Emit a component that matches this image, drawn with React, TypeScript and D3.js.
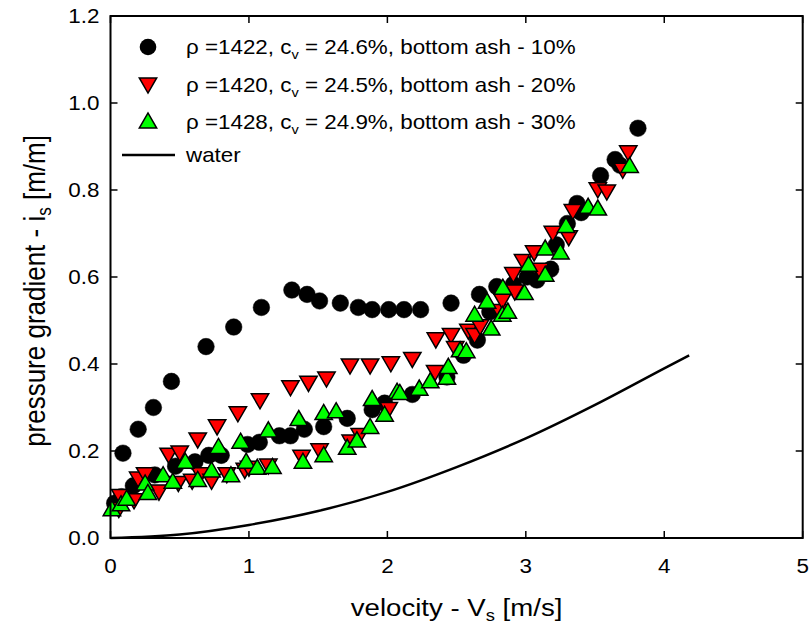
import React from "react";
import * as d3 from "d3";

const xTicks = [0, 1, 2, 3, 4, 5];
const yTicks = [0, 0.2, 0.4, 0.6, 0.8, 1.0, 1.2];

const ash10: [number, number][] = [
  [0.03, 0.08], [0.08, 0.095], [0.09, 0.195], [0.165, 0.12], [0.2, 0.25], [0.31, 0.3], [0.32, 0.145],
  [0.44, 0.36], [0.47, 0.165], [0.61, 0.175], [0.69, 0.44], [0.71, 0.19], [0.8, 0.19], [0.89, 0.485],
  [0.99, 0.215], [1.075, 0.22], [1.09, 0.53], [1.22, 0.235], [1.3, 0.235], [1.31, 0.57], [1.4, 0.25],
  [1.42, 0.56], [1.51, 0.545], [1.54, 0.256], [1.66, 0.54], [1.71, 0.275], [1.79, 0.53], [1.89, 0.525],
  [1.89, 0.295], [1.98, 0.31], [2.01, 0.525], [2.12, 0.525], [2.18, 0.33], [2.24, 0.525], [2.43, 0.37],
  [2.46, 0.54], [2.55, 0.42], [2.65, 0.455], [2.665, 0.56], [2.74, 0.52], [2.79, 0.578], [2.91, 0.583],
  [3.01, 0.6], [3.08, 0.593], [3.18, 0.618], [3.22, 0.674], [3.3, 0.723], [3.37, 0.769], [3.4, 0.748],
  [3.54, 0.833], [3.645, 0.87], [3.68, 0.857], [3.81, 0.942],
];

const ash20: [number, number][] = [
  [0.06, 0.07], [0.07, 0.1], [0.17, 0.09], [0.2, 0.14], [0.25, 0.15], [0.35, 0.11], [0.42, 0.195],
  [0.49, 0.13], [0.5, 0.2], [0.59, 0.135], [0.63, 0.23], [0.65, 0.15], [0.73, 0.135], [0.77, 0.26],
  [0.84, 0.15], [0.92, 0.29], [0.97, 0.16], [1.0, 0.165], [1.08, 0.32], [1.14, 0.17], [1.3, 0.35],
  [1.38, 0.19], [1.43, 0.36], [1.51, 0.205], [1.56, 0.37], [1.73, 0.4], [1.735, 0.225], [1.8, 0.24],
  [1.875, 0.4], [2.01, 0.3], [2.025, 0.405], [2.18, 0.415], [2.345, 0.385], [2.35, 0.46], [2.46, 0.47],
  [2.49, 0.44], [2.585, 0.48], [2.63, 0.47], [2.67, 0.49], [2.81, 0.525], [2.83, 0.55], [2.91, 0.61],
  [2.92, 0.57], [2.98, 0.64], [3.06, 0.66], [3.1, 0.62], [3.195, 0.705], [3.31, 0.695], [3.34, 0.755],
  [3.52, 0.805], [3.585, 0.8], [3.7, 0.85], [3.74, 0.89],
];

const ash30: [number, number][] = [
  [0.01, 0.063], [0.076, 0.074], [0.117, 0.087], [0.25, 0.122], [0.27, 0.1], [0.38, 0.141], [0.45, 0.126],
  [0.54, 0.172], [0.63, 0.13], [0.73, 0.152], [0.78, 0.206], [0.87, 0.141], [0.94, 0.218], [0.98, 0.172],
  [1.06, 0.158], [1.14, 0.244], [1.17, 0.16], [1.36, 0.27], [1.39, 0.172], [1.54, 0.187], [1.54, 0.284],
  [1.63, 0.288], [1.71, 0.204], [1.78, 0.221], [1.875, 0.252], [1.89, 0.316], [1.98, 0.28], [2.07, 0.333],
  [2.09, 0.33], [2.23, 0.34], [2.31, 0.357], [2.43, 0.365], [2.44, 0.39], [2.525, 0.428], [2.57, 0.426],
  [2.63, 0.51], [2.72, 0.54], [2.75, 0.478], [2.83, 0.51], [2.834, 0.572], [2.87, 0.517], [2.99, 0.56],
  [3.02, 0.625], [3.14, 0.602], [3.14, 0.662], [3.25, 0.653], [3.29, 0.714], [3.45, 0.758], [3.52, 0.754],
  [3.75, 0.852],
];

const water: [number, number][] = [
  [0, 0], [0.5, 0.008], [1, 0.03], [1.5, 0.062], [2, 0.106], [2.5, 0.163], [3, 0.229], [3.5, 0.306],
  [4, 0.39], [4.18, 0.42],
];

const legendLabels = [
  { rho: "1422", cv: "24.6%", ash: "10%" },
  { rho: "1420", cv: "24.5%", ash: "20%" },
  { rho: "1428", cv: "24.9%", ash: "30%" },
];

const W = 809;
const H = 632;
const left = 110.5;
const right = 802.7;
const top = 16;
const bottom = 538;
const SX = 1.15;

const FONT = "'Liberation Sans', Arial, sans-serif";

export default function App() {
  const x = d3.scaleLinear().domain([0, 5]).range([left, right]);
  const y = d3.scaleLinear().domain([0, 1.2]).range([bottom, top]);
  const line = d3
    .line<[number, number]>()
    .x((d) => x(d[0]))
    .y((d) => y(d[1]))
    .curve(d3.curveMonotoneX);

  const tri = 8.7;
  const downTri = (cx: number, cy: number) =>
    `M${cx - tri},${cy - tri * 0.58} L${cx + tri},${cy - tri * 0.58} L${cx},${cy + tri * 1.15} Z`;
  const upTri = (cx: number, cy: number) =>
    `M${cx - tri},${cy + tri * 0.58} L${cx + tri},${cy + tri * 0.58} L${cx},${cy - tri * 1.15} Z`;

  const legendY = [47, 85, 122];

  return (
    <svg width={W} height={H} style={{ position: "absolute", left: 0, top: 0, background: "#fff" }} fontFamily={FONT}>
      <rect x={0} y={0} width={W} height={H} fill="#fff" />
      <path d={line(water) || ""} fill="none" stroke="#000" strokeWidth={2.5} />
      {ash10.map((d, i) => (
        <circle key={"c" + i} cx={x(d[0])} cy={y(d[1])} r={8.3} fill="#000" stroke="#000" strokeWidth={0.5} />
      ))}
      {ash20.map((d, i) => (
        <path key={"r" + i} d={downTri(x(d[0]), y(d[1]))} fill="#ff0000" stroke="#000" strokeWidth={1.5} />
      ))}
      {ash30.map((d, i) => (
        <path key={"g" + i} d={upTri(x(d[0]), y(d[1]))} fill="#00ff00" stroke="#000" strokeWidth={1.5} />
      ))}
      <rect x={left} y={top} width={right - left} height={bottom - top} fill="none" stroke="#000" strokeWidth={2} />
      {xTicks.map((t) => (
        <g key={"xt" + t}>
          <line x1={x(t)} x2={x(t)} y1={bottom} y2={bottom - 7} stroke="#000" strokeWidth={1.5} />
          <line x1={x(t)} x2={x(t)} y1={top} y2={top + 7} stroke="#000" strokeWidth={1.5} />
          <text
            transform={`translate(${x(t)}, ${bottom + 35}) scale(${SX}, 1)`}
            textAnchor="middle"
            fontSize={19.5}
            fill="#000"
          >
            {t}
          </text>
        </g>
      ))}
      {yTicks.map((t) => (
        <g key={"yt" + t}>
          <line x1={left} x2={left + 7} y1={y(t)} y2={y(t)} stroke="#000" strokeWidth={1.5} />
          <line x1={right} x2={right - 7} y1={y(t)} y2={y(t)} stroke="#000" strokeWidth={1.5} />
          <text
            transform={`translate(${left - 11}, ${y(t) + 7}) scale(${SX}, 1)`}
            textAnchor="end"
            fontSize={19.5}
            fill="#000"
          >
            {t.toFixed(1)}
          </text>
        </g>
      ))}
      <text
        transform={`translate(${(left + right) / 2}, 616) scale(${SX}, 1)`}
        textAnchor="middle"
        fontSize={24}
        fill="#000"
      >
        velocity - V<tspan fontSize={16} dy={5}>s</tspan>
        <tspan dy={-5}> [m/s]</tspan>
      </text>
      <text
        transform={`translate(45, ${(top + bottom) / 2 + 14}) rotate(-90) scale(1, ${SX})`}
        textAnchor="middle"
        fontSize={26}
        fill="#000"
      >
        pressure gradient - i<tspan fontSize={17} dy={5}>s</tspan>
        <tspan dy={-5}> [m/m]</tspan>
      </text>
      <circle cx={148} cy={legendY[0]} r={8.3} fill="#000" />
      <path d={downTri(148, legendY[1] - 2)} fill="#ff0000" stroke="#000" strokeWidth={1.5} />
      <path d={upTri(148, legendY[2] + 1)} fill="#00ff00" stroke="#000" strokeWidth={1.5} />
      <line x1={122} x2={175} y1={155} y2={155} stroke="#000" strokeWidth={2.5} />
      {legendLabels.map((l, i) => (
        <text
          key={"lg" + i}
          transform={`translate(186, ${legendY[i] + 7}) scale(1.12, 1)`}
          fontSize={20}
          fill="#000"
        >
          ρ ={l.rho}, c<tspan fontSize={13} dy={5}>v</tspan>
          <tspan dy={-5}> = {l.cv}, bottom ash - {l.ash}</tspan>
        </text>
      ))}
      <text transform={`translate(186, 162) scale(1.12, 1)`} fontSize={20} fill="#000">
        water
      </text>
    </svg>
  );
}
